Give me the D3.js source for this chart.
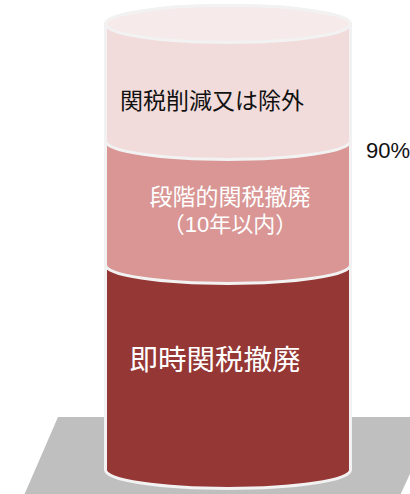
<!DOCTYPE html>
<html lang="ja">
<head>
<meta charset="utf-8">
<script src="https://cdn.jsdelivr.net/npm/d3@7/dist/d3.min.js"></script>
<style>
  html, body { margin: 0; padding: 0; background: #fff; overflow: hidden; }
  svg { display: block; }
  text { font-family: "Liberation Sans", "Noto Sans CJK JP", sans-serif; }
</style>
</head>
<body>
<div id="chart"></div>
<script>
// Share of tariff lines per treatment, bottom of the stack first (percent).
const categories = ["即時関税撤廃", "段階的関税撤廃", "関税削減又は除外"];
const shares = [55, 35, 10];
const fills = ["#953735", "#D99694", "#F2DCDB"];
const capFill = "#F7EAEA";
const edgeColor = "#F2F2F2";
const cumulativeLabel = "90%";

const width = 410, height = 494;
const svg = d3.select("#chart").append("svg")
  .attr("width", width).attr("height", height);

// Cumulative boundaries of the stack, bottom upward.
const stacked = d3.stack().keys(categories)([
  Object.fromEntries(categories.map((c, i) => [c, shares[i]]))
]).map((s, i) => ({ name: s.key, from: s[0][0], to: s[0][1], fill: fills[i] }));

// The cylinder is a schematic: each band has its own drawn height.
const y = d3.scaleLinear().domain([0, 55, 90, 100]).range([470, 265, 141, 24]);
const x = d3.scaleLinear().domain([0, 1]).range([105.5, 350.5]);
const rx = (x(1) - x(0)) / 2, ry = 18.5;

// Grey floor under the cylinder.
svg.append("path")
  .attr("d", d3.line()([[58, 417], [436, 417], [398, 500], [22, 500]]) + "Z")
  .attr("fill", "#BFBFBF");

// One barrel per band; upper bands overlap the band beneath them.
const barrel = (top, bottom) =>
  `M${x(0)},${top}A${rx},${ry} 0 0 1 ${x(1)},${top}` +
  `L${x(1)},${bottom}A${rx},${ry} 0 0 1 ${x(0)},${bottom}Z`;

svg.append("g").selectAll("path").data(stacked).join("path")
  .attr("d", d => barrel(y(d.to) , y(d.from)))
  .attr("fill", d => d.fill)
  .attr("stroke", edgeColor)
  .attr("stroke-width", 3)
  .attr("stroke-linejoin", "round");

// Cap of the cylinder.
svg.append("ellipse")
  .attr("cx", (x(0) + x(1)) / 2).attr("cy", y(100))
  .attr("rx", rx).attr("ry", ry)
  .attr("fill", capFill)
  .attr("stroke", edgeColor)
  .attr("stroke-width", 3);

// Band labels.
const addText = (str, cx, by, size, fill) =>
  svg.append("text").attr("x", cx).attr("y", by)
    .attr("text-anchor", "middle")
    .attr("font-size", size).attr("fill", fill).text(str);

addText(categories[2], 212, 109, 23, "#111");
addText(categories[1], 230, 205, 23, "#fff");
addText("（10年以内）", 230, 232, 22, "#fff");
addText(categories[0], 215, 370, 28.5, "#fff");

svg.append("text").attr("x", 366).attr("y", y(90) + 17)
  .attr("font-size", 22).attr("fill", "#111").text(cumulativeLabel);
</script>
</body>
</html>
